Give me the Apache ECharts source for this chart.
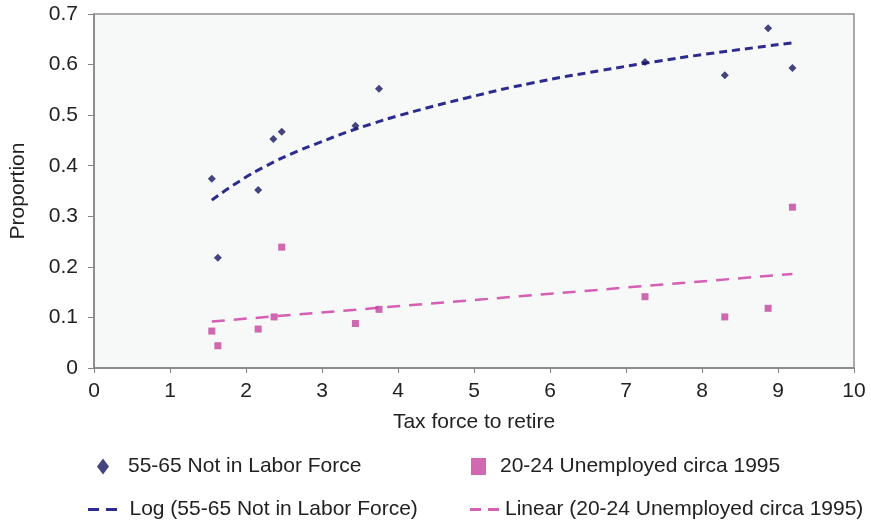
<!DOCTYPE html>
<html>
<head>
<meta charset="utf-8">
<script src="https://cdn.jsdelivr.net/npm/echarts@6/dist/echarts.min.js"></script>
<style>
  html, body { margin: 0; padding: 0; background: #fff; }
  #chart { width: 871px; height: 522px; }
</style>
</head>
<body>
<div id="chart"></div>
<script>
// scatter points [tax force, proportion]
const notInLaborForce = [
  [1.55, 0.374], [1.63, 0.218], [2.16, 0.352], [2.36, 0.453], [2.47, 0.467],
  [3.44, 0.479], [3.75, 0.552], [7.25, 0.605], [8.30, 0.579], [8.87, 0.672],
  [9.19, 0.593]
];
const unemployed = [
  [1.55, 0.073], [1.63, 0.044], [2.16, 0.077], [2.37, 0.101], [2.47, 0.239],
  [3.44, 0.088], [3.75, 0.116], [7.25, 0.141], [8.30, 0.101], [8.87, 0.118],
  [9.19, 0.318]
];
// trend lines
const logTrend = [
  [1.55, 0.332], [1.92, 0.370], [2.27, 0.400], [2.62, 0.425], [2.97, 0.446],
  [3.32, 0.466], [3.68, 0.484], [4.03, 0.500], [4.90, 0.534], [5.78, 0.564],
  [6.66, 0.588], [7.40, 0.606], [7.97, 0.619], [9.19, 0.643]
];
const linearTrend = [[1.55, 0.092], [9.19, 0.186]];

const xTicks = [0, 10, 1];
const yTicks = [0, 0.7, 0.1];

const FONT = "Liberation Sans";
const FS = 21;
const BLUE = "#15155f";
const BLUE_LINE = "#2c2c8e";
const PINK = "#c4449c";
const PINK_LINE = "#d55fb3";
const DASH_ICON = "path://M0,0h11v3h-11z M18,0h11v3h-11z";

const chart = echarts.init(document.getElementById("chart"));

function legendItem(name, icon, left, top, w, h, pad) {
  return {
    data: [{ name: name, icon: icon }],
    left: left,
    top: top,
    padding: 0,
    itemWidth: w,
    itemHeight: h,
    selectedMode: false,
    textStyle: { fontFamily: FONT, fontSize: FS, color: "#222", padding: [0, 0, 0, pad] }
  };
}

chart.setOption({
  animation: false,
  backgroundColor: "#fff",
  textStyle: { fontFamily: FONT },
  grid: {
    left: 94,
    right: 17,
    top: 14,
    bottom: 154,
    outerBoundsMode: "none",
    show: true,
    backgroundColor: "#f7f8f8",
    borderColor: "#8f8f8f",
    borderWidth: 1.5
  },
  legend: [
    legendItem("55-65 Not in Labor Force", "diamond", 97, 456, 12, 16, 14),
    legendItem("20-24 Unemployed circa 1995", "rect", 471, 456, 15, 17, 9),
    legendItem("Log (55-65 Not in Labor Force)", DASH_ICON, 88, 499, 30, 3, 7),
    legendItem("Linear (20-24 Unemployed circa 1995)", DASH_ICON, 470, 499, 29, 3, 1)
  ],
  xAxis: {
    type: "value",
    min: xTicks[0],
    max: xTicks[1],
    interval: xTicks[2],
    name: "Tax force to retire",
    nameLocation: "middle",
    nameGap: 44,
    nameTextStyle: { fontFamily: FONT, fontSize: FS, color: "#222" },
    axisLine: { lineStyle: { color: "#858585", width: 1.5 } },
    axisTick: { show: true, length: 5, lineStyle: { color: "#858585" } },
    axisLabel: { fontFamily: FONT, fontSize: FS, color: "#222", margin: 13 },
    splitLine: { show: false }
  },
  yAxis: {
    type: "value",
    min: yTicks[0],
    max: yTicks[1],
    interval: yTicks[2],
    name: "Proportion",
    nameLocation: "middle",
    nameGap: 65,
    nameTextStyle: { fontFamily: FONT, fontSize: FS, color: "#222" },
    axisLine: { show: true, lineStyle: { color: "#858585", width: 1.5 } },
    axisTick: { show: true, length: 6, lineStyle: { color: "#858585" } },
    axisLabel: { fontFamily: FONT, fontSize: FS, color: "#222", margin: 16 },
    splitLine: { show: false }
  },
  series: [
    {
      name: "55-65 Not in Labor Force",
      type: "scatter",
      symbol: "diamond",
      symbolSize: 8,
      color: BLUE,
      data: notInLaborForce,
      z: 3
    },
    {
      name: "20-24 Unemployed circa 1995",
      type: "scatter",
      symbol: "rect",
      symbolSize: 7,
      color: PINK,
      data: unemployed,
      z: 3
    },
    {
      name: "Log (55-65 Not in Labor Force)",
      type: "line",
      smooth: true,
      symbol: "none",
      color: BLUE_LINE,
      lineStyle: { type: [8, 5], width: 3, color: BLUE_LINE },
      data: logTrend,
      z: 2
    },
    {
      name: "Linear (20-24 Unemployed circa 1995)",
      type: "line",
      symbol: "none",
      color: PINK_LINE,
      lineStyle: { type: [13, 9], width: 2.5, color: PINK_LINE },
      data: linearTrend,
      z: 2
    }
  ]
});
</script>
</body>
</html>
